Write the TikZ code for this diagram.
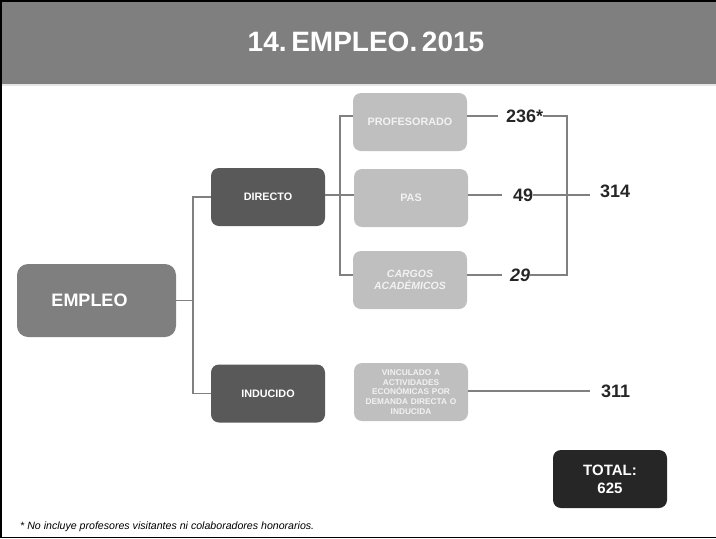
\documentclass[tikz,border=0pt]{standalone}
\usepackage{fontspec}
\setmainfont{Liberation Sans}
\begin{document}
\begin{tikzpicture}[x=1pt,y=-1pt,
  box/.style={rounded corners=8pt, inner sep=0pt, align=center, text=white, font=\bfseries\fontsize{10.8}{12}\selectfont},
  bigbox/.style={box, fill=midgray, text width=159pt, minimum width=159pt, minimum height=73pt, rounded corners=11pt, font=\bfseries\fontsize{18}{20}\selectfont},
  darkbox/.style={box, fill=darkgray2, minimum width=114pt, text width=114pt, minimum height=58pt},
  lightbox/.style={box, fill=lightgray2, minimum width=114pt, text width=112pt, minimum height=58pt, text=white!95!black},
  num/.style={inner sep=0pt, text=numcol, font=\bfseries\fontsize{18}{20}\selectfont},
  conn/.style={draw=linecol, line width=1.1pt}]
\definecolor{midgray}{HTML}{7F7F7F}
\definecolor{darkgray2}{HTML}{595959}
\definecolor{lightgray2}{HTML}{BFBFBF}
\definecolor{linecol}{HTML}{808080}
\definecolor{numcol}{HTML}{262626}
\definecolor{totcol}{HTML}{262626}
\useasboundingbox (0,0) rectangle (716,539);
% header
\fill[midgray] (0,0) rectangle (716,84);
\fill[black!10] (0,84) rectangle (716,85.5);
\node[text=white, font=\bfseries\fontsize{28}{30}\selectfont] (title) at (366,42) {14.\,EMPLEO.\,2015};
% frame
\draw[black, line width=1.8pt] (716,0.9) -- (0.9,0.9) -- (0.9,537.4) -- (716,537.4);
% nodes
\node[bigbox] (empleo) at (96.5,300.5) {EMPLEO\hspace*{14pt}};
\node[darkbox] (directo) at (268,197) {DIRECTO};
\node[darkbox] (inducido) at (268,393.5) {INDUCIDO};
\node[lightbox] (prof) at (410,122) {PROFESORADO};
\node[lightbox] (pas) at (411,198) {PAS};
\node[lightbox, font=\bfseries\itshape\fontsize{10.5}{12.5}\selectfont] (cargos) at (410,280) {CARGOS\\ACADÉMICOS};
\node[lightbox, font=\bfseries\fontsize{8.3}{9.6}\selectfont] (vinc) at (411,392) {VINCULADO A\\ACTIVIDADES\\ECONÓMICAS POR\\DEMANDA DIRECTA O\\INDUCIDA};
\node[box, fill=totcol, minimum width=114pt, minimum height=58pt, font=\bfseries\fontsize{15}{18}\selectfont] (total) at (610,479) {TOTAL:\\625};
% numbers
\node[num, anchor=west] (n236) at (506,116) {236*};
\node[num, anchor=west] (n49) at (513,195) {49};
\node[num, anchor=west, font=\bfseries\itshape\fontsize{18}{20}\selectfont] (n29) at (510,275) {29};
\node[num, anchor=west] (n314) at (600,191) {314};
\node[num, anchor=west] (n311) at (601,391) {311};
% connectors level 1
\coordinate (t1) at (193,300.5);
\draw[conn] (empleo.east) -- (t1);
\draw[conn] (directo.west) -| (t1) |- (inducido.west);
% connectors level 2
\coordinate (t2) at (340,195);
\draw[conn] (directo.east |- t2) -- (t2);
\draw[conn] (prof.west |- n236) -| (t2) |- (cargos.west |- n29);
\draw[conn] (pas.west |- n49) -- (t2);
% value lines
\draw[conn] (prof.east |- n236) -- (498,116);
\draw[conn] (pas.east |- n49) -- (502,195);
\draw[conn] (cargos.east |- n29) -- (502,275);
\draw[conn] (n236.east) -- (567,116) |- (n29.east);
\draw[conn] (n49.east) -- (590,195);
\draw[conn] (vinc.east |- n311) -- (590,391);
% footnote
\node[anchor=west, inner sep=0pt, text=black, font=\itshape\fontsize{10.6}{12}\selectfont] (foot) at (20,527) {* No incluye profesores visitantes ni colaboradores honorarios.};
\end{tikzpicture}
\end{document}
